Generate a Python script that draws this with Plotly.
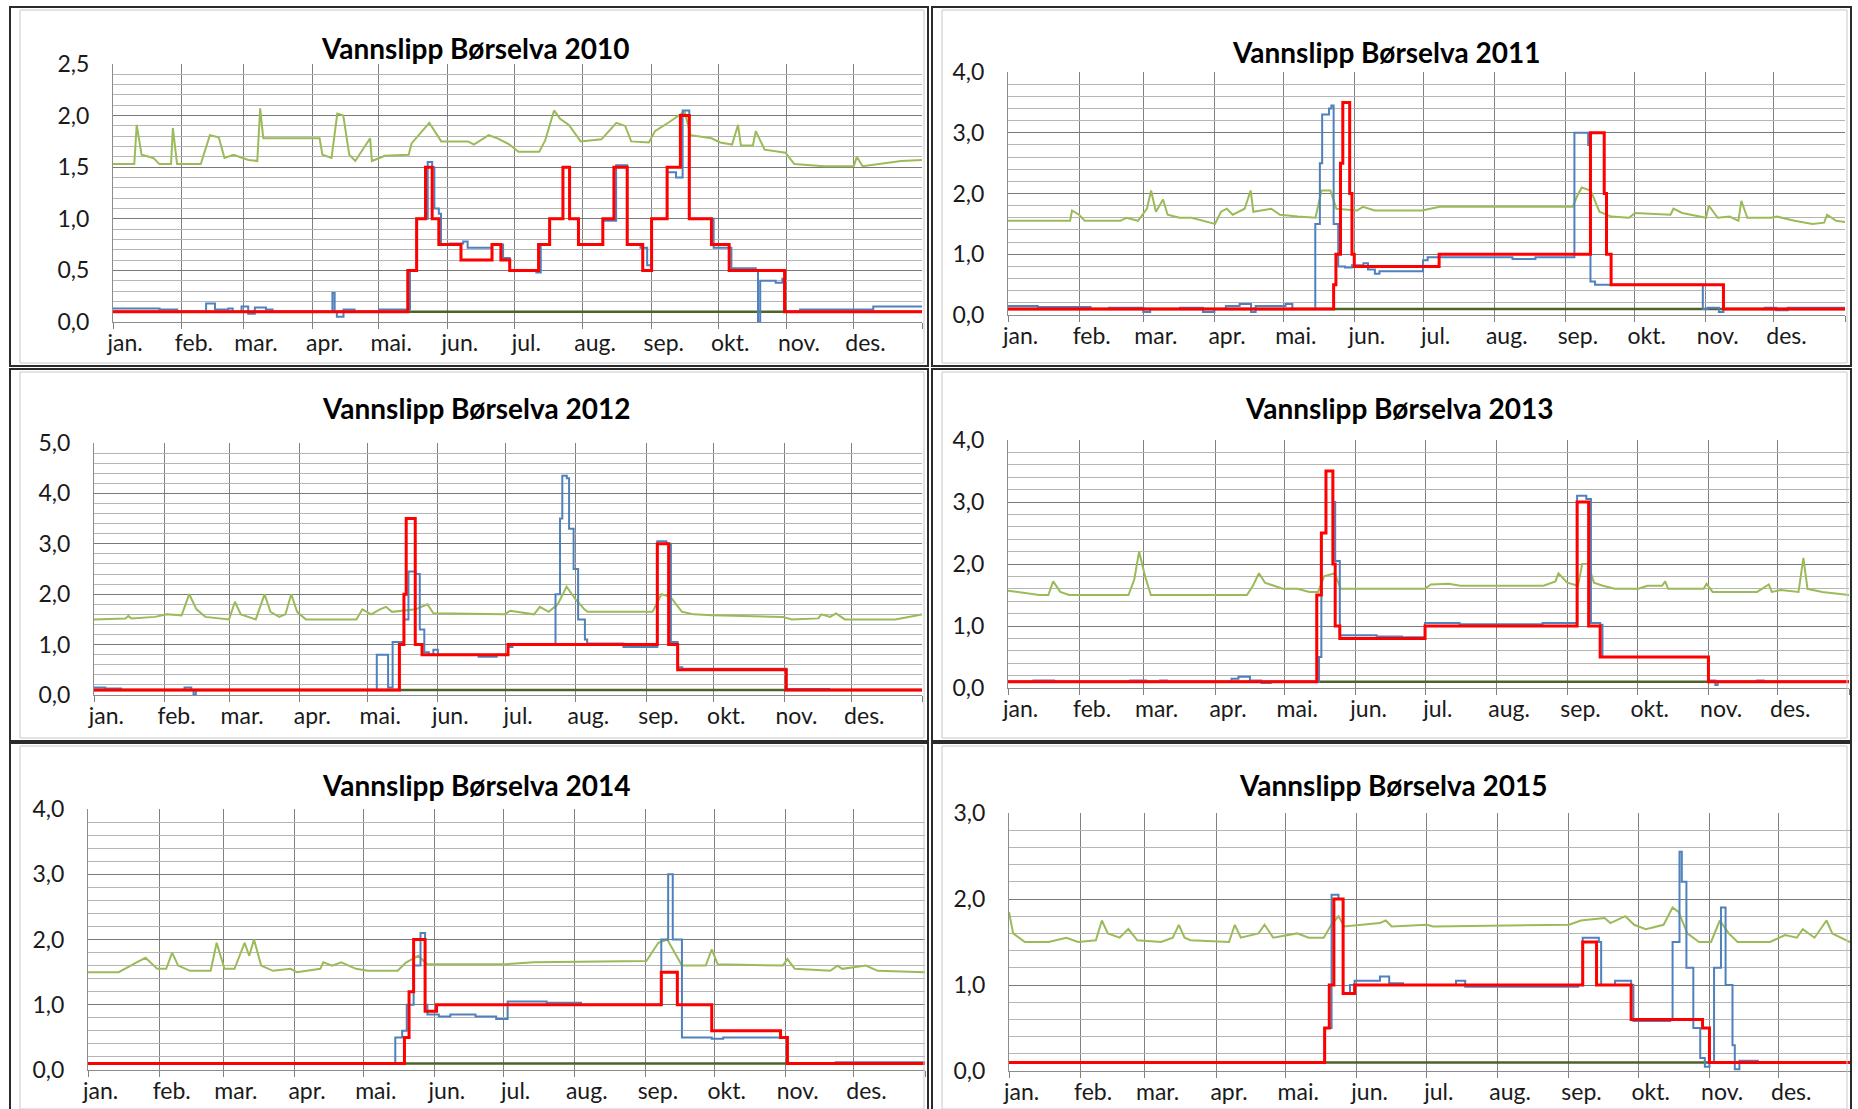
"""Vannslipp Børselva 2010-2015: six yearly panels of daily flow."""

import calendar

import plotly.graph_objects as go

W, H = 1858, 1109

MONTHS = ["jan.", "feb.", "mar.", "apr.", "mai.", "jun.",
          "jul.", "aug.", "sep.", "okt.", "nov.", "des."]
YEARS = [2010, 2011, 2012, 2013, 2014, 2015]
Y_MAX = [2.5, 4.0, 5.0, 4.0, 4.0, 3.0]
Y_STEP = [0.5, 1.0, 1.0, 1.0, 1.0, 1.0]
MIN_FLOW = 0.1

# (day of year, m3/s)
GREEN_2010 = [(0, 1.53), (9.6, 1.53), (10.7, 1.91), (12.9, 1.62), (18.2, 1.59), (20.9, 1.53),
              (26.2, 1.53), (27, 1.88), (28.9, 1.53), (39.6, 1.53), (43.7, 1.81), (47.7, 1.79),
              (50.3, 1.59), (54.4, 1.62), (61.1, 1.57), (65.1, 1.56), (66.4, 2.07), (67.8, 1.78),
              (93.2, 1.78), (94.5, 1.62), (98.6, 1.59), (101.2, 2.02), (103.9, 2.0), (106.6, 1.62),
              (109.3, 1.56), (116, 1.78), (116.8, 1.56), (122.7, 1.61), (133.4, 1.62), (134.7, 1.73),
              (142.7, 1.93), (148.1, 1.75), (160.2, 1.75), (162.8, 1.72), (169.5, 1.81), (173.5, 1.78),
              (178.9, 1.72), (182.9, 1.65), (192.3, 1.65), (195, 1.76), (199, 2.05), (201.7, 1.97),
              (205.7, 1.91), (211, 1.75), (220.4, 1.77), (227.1, 1.93), (231.1, 1.9), (233.8, 1.75),
              (241.8, 1.74), (244.5, 1.85), (251.2, 1.94), (257.9, 2.04), (260.6, 1.81), (270, 1.78),
              (274, 1.74), (279.3, 1.72), (282, 1.91), (283.3, 1.71), (288.7, 1.71), (290, 1.85),
              (294, 1.67), (303.4, 1.64), (307.4, 1.53), (320.8, 1.51), (334.2, 1.51), (335.6, 1.6),
              (338.2, 1.51), (355.6, 1.56), (365, 1.57)]
BLUE_2010 = [(0, 0.13), (21, 0.12), (29, 0.1), (42, 0.18), (46, 0.12), (52, 0.13), (54, 0.1),
             (58, 0.15), (61, 0.08), (64, 0.14), (69, 0.12), (72, 0.1), (99, 0.28), (100, 0.1),
             (101, 0.05), (104, 0.12), (109, 0.1), (120, 0.12), (134, 0.5), (137, 1.0), (142, 1.55),
             (144, 1.5), (145, 1.1), (147, 1.05), (148, 0.75), (152, 0.76), (158, 0.78), (160, 0.72),
             (171, 0.75), (176, 0.62), (179, 0.5), (191, 0.48), (193, 0.75), (197, 1.0), (203, 1.5),
             (206, 1.0), (210, 0.75), (221, 0.98), (227, 1.52), (232, 0.75), (238, 0.72), (241, 0.55),
             (243, 1.0), (250, 1.45), (254, 1.4), (257, 2.05), (260, 1.0), (271, 0.72), (279, 0.52),
             (290, 0.5), (291, 0.0), (292, 0.4), (299, 0.38), (302, 0.42), (303, 0.1), (310, 0.12),
             (343, 0.15), (365, 0.14)]
RED_2010 = [(0, 0.1), (133, 0.5), (137, 1.0), (141, 1.5), (144, 1.0), (147, 0.75), (157, 0.6),
            (171, 0.75), (175, 0.6), (179, 0.5), (192, 0.75), (197, 1.0), (203, 1.5), (206, 1.0),
            (210, 0.75), (221, 1.0), (226, 1.5), (232, 0.75), (239, 0.5), (243, 1.0), (250, 1.5),
            (256, 2.0), (260, 1.0), (270, 0.75), (278, 0.5), (303, 0.1), (365, 0.1)]

GREEN_2011 = [(0, 1.55), (27.1, 1.55), (27.9, 1.72), (31, 1.65), (33.5, 1.55), (49, 1.55), (51.6, 1.6),
              (56.7, 1.55), (60.6, 1.75), (62.4, 2.05), (64.5, 1.7), (67.6, 1.9), (69.6, 1.65),
              (74.8, 1.6), (80, 1.6), (85.1, 1.55), (90.3, 1.5), (92.9, 1.7), (95.4, 1.75), (98, 1.65),
              (103.2, 1.75), (105.8, 2.05), (107, 1.7), (114.8, 1.75), (118.6, 1.65), (126.4, 1.62),
              (134.1, 1.6), (136.7, 2.05), (140.6, 2.05), (143.2, 1.75), (152.2, 1.72), (154.8, 1.78),
              (159.9, 1.72), (180.5, 1.72), (188.3, 1.78), (246.3, 1.78), (248.1, 1.95), (250.2, 2.1),
              (254.1, 2.05), (257.9, 1.7), (263.1, 1.62), (270.8, 1.6), (273.4, 1.68), (288.9, 1.65),
              (290.2, 1.75), (294, 1.68), (304.4, 1.6), (305.6, 1.8), (309.5, 1.6), (314.7, 1.62),
              (318.5, 1.55), (319.8, 1.88), (322.4, 1.6), (332.7, 1.6), (335.3, 1.62), (343, 1.55),
              (350.8, 1.5), (355.9, 1.52), (357.2, 1.65), (361.1, 1.55), (365, 1.53)]
BLUE_2011 = [(0, 0.15), (13, 0.13), (36, 0.1), (44, 0.12), (59, 0.05), (62, 0.1), (75, 0.12),
             (85, 0.05), (90, 0.1), (95, 0.15), (101, 0.18), (106, 0.05), (108, 0.15), (121, 0.18),
             (124, 0.1), (134, 1.5), (136, 2.5), (137, 3.3), (140, 3.4), (141, 3.45), (142, 1.5),
             (144, 0.8), (147, 0.78), (150, 0.82), (155, 0.85), (157, 0.75), (160, 0.68), (162, 0.72),
             (181, 0.9), (183, 0.95), (220, 0.92), (230, 0.95), (247, 3.0), (253, 2.8), (254, 0.55),
             (256, 0.5), (303, 0.1), (305, 0.12), (310, 0.05), (312, 0.1), (330, 0.12), (335, 0.08),
             (340, 0.12), (365, 0.12)]
RED_2011 = [(0, 0.1), (142, 0.5), (143, 1.0), (145, 2.5), (146, 3.5), (149, 2.0), (150, 1.0),
            (151, 0.8), (188, 1.0), (254, 3.0), (260, 2.0), (261, 1.0), (263, 0.5), (312, 0.1),
            (365, 0.1)]

GREEN_2012 = [(0, 1.5), (13.9, 1.52), (15.2, 1.57), (16.5, 1.52), (27, 1.55), (32.2, 1.6), (38.7, 1.58),
              (42.1, 2.0), (45.3, 1.7), (49.2, 1.55), (59.7, 1.5), (62.3, 1.85), (64.9, 1.6),
              (68.3, 1.55), (71.5, 1.5), (75.4, 2.0), (78, 1.65), (81.9, 1.55), (84.6, 1.6), (87.2, 2.0),
              (89.8, 1.65), (93.7, 1.5), (116, 1.5), (118.6, 1.7), (122.5, 1.6), (126.4, 1.7),
              (129.1, 1.75), (131.7, 1.65), (142.1, 1.7), (147.4, 1.8), (150, 1.62), (181.4, 1.6),
              (184, 1.67), (194.5, 1.6), (197.1, 1.75), (201, 1.65), (205, 1.8), (208.9, 2.15),
              (212.8, 1.9), (216.8, 1.7), (218.1, 1.65), (246.9, 1.65), (250.8, 2.0), (254.7, 1.95),
              (259.9, 1.65), (265.2, 1.6), (273, 1.58), (304.5, 1.55), (308.4, 1.5), (320.2, 1.52),
              (321.5, 1.6), (325.4, 1.55), (328, 1.62), (331.9, 1.5), (354.2, 1.5), (366, 1.6)]
BLUE_2012 = [(0, 0.15), (5, 0.13), (12, 0.1), (40, 0.15), (43, 0.1), (44, 0.0), (45, 0.1), (125, 0.8),
             (130, 0.15), (132, 1.05), (137, 1.5), (139, 2.45), (142, 2.4), (144, 1.3), (146, 0.85),
             (148, 0.8), (150, 0.9), (152, 0.8), (170, 0.76), (178, 0.8), (183, 0.95), (185, 1.0),
             (204, 2.0), (206, 3.5), (207, 4.35), (209, 4.3), (210, 3.3), (212, 2.5), (214, 1.5),
             (217, 1.1), (218, 1.02), (234, 0.95), (249, 3.05), (253, 3.0), (255, 1.05), (258, 0.55),
             (260, 0.52), (306, 0.12), (325, 0.1), (366, 0.1)]
RED_2012 = [(0, 0.1), (135, 1.0), (137, 2.0), (138, 3.5), (142, 1.0), (145, 0.8), (183, 1.0),
            (249, 3.0), (254, 1.0), (258, 0.5), (306, 0.1), (366, 0.1)]

GREEN_2013 = [(0, 1.57), (13.6, 1.5), (17.5, 1.5), (19.6, 1.72), (22.7, 1.55), (26.5, 1.5), (52.3, 1.5),
              (54.8, 1.75), (56.9, 2.2), (59.5, 1.8), (62, 1.5), (103.7, 1.5), (106.3, 1.65),
              (108.9, 1.85), (111.5, 1.7), (115.3, 1.65), (119.2, 1.6), (125.6, 1.6), (130.8, 1.55),
              (134.6, 1.55), (137.2, 1.8), (141.8, 1.85), (144.4, 1.6), (181, 1.6), (183.5, 1.67),
              (191.2, 1.68), (196.4, 1.65), (232.4, 1.65), (237.6, 1.72), (238.9, 1.85), (242.7, 1.7),
              (247.4, 1.65), (249.2, 2.0), (251.7, 2.0), (254.3, 1.7), (258.2, 1.65), (263.3, 1.6),
              (273.6, 1.6), (277.5, 1.65), (283.9, 1.65), (285.2, 1.72), (286.5, 1.6), (301.9, 1.6),
              (303.2, 1.68), (305.8, 1.55), (325.1, 1.55), (330.2, 1.67), (331.5, 1.55), (335.4, 1.58),
              (343.1, 1.55), (345.2, 2.1), (347, 1.6), (353.4, 1.55), (365, 1.5)]
BLUE_2013 = [(0, 0.1), (11, 0.12), (20, 0.1), (53, 0.12), (60, 0.1), (66, 0.12), (69, 0.1), (97, 0.15),
             (100, 0.18), (105, 0.12), (110, 0.08), (114, 0.1), (135, 0.5), (136, 2.5), (138, 3.5),
             (141, 3.0), (142, 2.05), (144, 0.85), (160, 0.83), (171, 0.82), (181, 1.05), (196, 1.03),
             (232, 1.05), (247, 3.1), (251, 3.05), (253, 1.05), (257, 1.02), (258, 0.5), (304, 0.12),
             (307, 0.05), (308, 0.1), (325, 0.12), (328, 0.1), (365, 0.1)]
RED_2013 = [(0, 0.1), (134, 1.5), (136, 2.5), (138, 3.5), (141, 2.0), (142, 1.0), (144, 0.8),
            (181, 1.0), (247, 3.0), (252, 1.0), (257, 0.5), (304, 0.1), (365, 0.1)]

GREEN_2014 = [(0, 1.5), (13.4, 1.5), (21.2, 1.65), (25.1, 1.72), (30.2, 1.55), (34.1, 1.55), (36.7, 1.8),
              (39.3, 1.6), (44.5, 1.52), (53.5, 1.52), (56.1, 1.95), (59.5, 1.55), (63.9, 1.55),
              (68.3, 1.95), (70.3, 1.75), (72.4, 2.0), (75.5, 1.6), (80.7, 1.52), (88.4, 1.55), (91, 1.5),
              (101.3, 1.55), (102.6, 1.65), (106.5, 1.6), (110.4, 1.65), (116.9, 1.55), (122, 1.52),
              (135, 1.52), (138.8, 1.65), (144, 1.75), (147.9, 1.62), (181.5, 1.62), (194.4, 1.65),
              (243.5, 1.67), (246.1, 1.8), (248.7, 1.95), (252.6, 2.0), (256.5, 1.75), (259, 1.6),
              (269.4, 1.6), (272, 1.85), (274.6, 1.62), (303, 1.6), (305, 1.7), (308.2, 1.55),
              (323.7, 1.52), (326.8, 1.6), (328.9, 1.55), (339.2, 1.6), (344.4, 1.52), (365, 1.5)]
BLUE_2014 = [(0, 0.1), (134, 0.5), (137, 0.6), (139, 1.0), (142, 1.6), (145, 2.1), (147, 1.0),
             (148, 0.85), (153, 0.82), (158, 0.85), (169, 0.82), (178, 0.78), (183, 1.05), (200, 1.03),
             (215, 1.0), (250, 2.0), (253, 3.0), (255, 2.0), (259, 0.5), (272, 0.48), (277, 0.5),
             (305, 0.1), (326, 0.12), (365, 0.12)]
RED_2014 = [(0, 0.1), (138, 0.5), (140, 1.2), (142, 2.0), (147, 0.9), (152, 1.0), (250, 1.5),
            (257, 1.0), (272, 0.6), (302, 0.5), (305, 0.1), (365, 0.1)]

GREEN_2015 = [(0, 1.85), (1.8, 1.6), (6.9, 1.5), (17.2, 1.5), (24.9, 1.55), (30, 1.5), (37.7, 1.52),
              (40.3, 1.75), (42.9, 1.6), (48, 1.55), (51.8, 1.65), (55.7, 1.52), (66, 1.5), (71.1, 1.55),
              (73.7, 1.7), (76.2, 1.55), (78.8, 1.52), (95.5, 1.5), (98, 1.7), (100.6, 1.55),
              (108.3, 1.6), (110.9, 1.7), (114.7, 1.55), (125, 1.6), (130.1, 1.55), (136.6, 1.55),
              (139.9, 1.7), (143, 1.8), (145.5, 1.68), (160.9, 1.72), (163.5, 1.75), (166.1, 1.68),
              (181.5, 1.7), (184, 1.68), (243.1, 1.7), (248.2, 1.75), (258.5, 1.78), (261, 1.72),
              (267.5, 1.8), (271.3, 1.7), (276.4, 1.65), (284.1, 1.7), (288, 1.9), (290.6, 1.85),
              (294.4, 1.6), (299.5, 1.5), (304.7, 1.5), (308.5, 1.75), (312.4, 1.6), (316.2, 1.5),
              (330.3, 1.5), (336.8, 1.58), (341.9, 1.55), (344.5, 1.65), (349.6, 1.55), (354.8, 1.75),
              (357.3, 1.6), (365, 1.5)]
BLUE_2015 = [(0, 0.1), (137, 0.5), (140, 2.05), (143, 2.0), (145, 0.9), (148, 1.0), (150, 1.05),
             (154, 1.05), (161, 1.1), (165, 1.02), (171, 1.0), (184, 1.0), (194, 1.05), (198, 0.98),
             (247, 1.0), (249, 1.55), (256, 1.5), (257, 1.0), (263, 1.05), (270, 1.0), (271, 0.58),
             (287, 0.6), (288, 1.5), (291, 2.55), (292, 2.2), (294, 1.2), (297, 0.5), (300, 0.15),
             (302, 0.05), (304, 0.1), (306, 1.2), (309, 1.9), (311, 1.0), (314, 0.3), (315, 0.02),
             (317, 0.12), (325, 0.1), (365, 0.1)]
RED_2015 = [(0, 0.1), (137, 0.5), (139, 1.0), (141, 2.0), (145, 0.9), (150, 1.0), (249, 1.5),
            (255, 1.0), (270, 0.6), (301, 0.5), (304, 0.1), (365, 0.1)]

GREEN = dict(zip(YEARS, [GREEN_2010, GREEN_2011, GREEN_2012, GREEN_2013, GREEN_2014, GREEN_2015]))
BLUE = dict(zip(YEARS, [BLUE_2010, BLUE_2011, BLUE_2012, BLUE_2013, BLUE_2014, BLUE_2015]))
RED = dict(zip(YEARS, [RED_2010, RED_2011, RED_2012, RED_2013, RED_2014, RED_2015]))

# pixel boxes of the picture
PLOT_BOX = [(113, 64, 922, 322), (1008, 72, 1845, 315),
            (94, 443, 922, 695), (1008, 440, 1849, 688),
            (88, 809, 925, 1070), (1009, 813, 1850, 1071)]
PANEL_BOX = [(10, 7, 928, 366), (932, 7, 1851, 366),
             (10, 369, 928, 741), (932, 369, 1851, 741),
             (10, 743, 928, 1112), (932, 743, 1851, 1112)]
TITLE_POS = [(475, 48), (1386, 52), (476, 408), (1399, 408), (476, 785), (1393, 785)]

C_GREEN = "#9BBB59"
C_DARK = "#4F6228"
C_BLUE = "#4F81BD"
C_RED = "#FF0000"
FONT = "Lato, 'Open Sans', sans-serif"
TXT = "#1a1a1a"


def px(x):
    return x / W


def py(y):
    return 1 - y / H


fig = go.Figure()
layout = {}
shapes = []
annotations = []

for i, year in enumerate(YEARS):
    n = "" if i == 0 else str(i + 1)
    xa, ya = f"x{n}", f"y{n}"
    ndays = 366 if calendar.isleap(year) else 365
    starts = [sum(calendar.monthrange(year, m)[1] for m in range(1, k)) for k in range(1, 13)]

    fig.add_trace(go.Scatter(x=[0, ndays], y=[MIN_FLOW, MIN_FLOW], mode="lines",
                             line=dict(color=C_DARK, width=2.5), xaxis=xa, yaxis=ya,
                             showlegend=False, hoverinfo="skip"))
    for data, color, width, shape in ((GREEN[year], C_GREEN, 2, "linear"),
                                      (BLUE[year], C_BLUE, 2, "hv"),
                                      (RED[year], C_RED, 3, "hv")):
        fig.add_trace(go.Scatter(x=[d for d, _ in data], y=[v for _, v in data], mode="lines",
                                 line=dict(color=color, width=width, shape=shape),
                                 xaxis=xa, yaxis=ya, showlegend=False))

    x0, y0, x1, y1 = PLOT_BOX[i]
    layout[f"xaxis{n}"] = dict(
        domain=[px(x0), px(x1)], range=[0, ndays], anchor=ya, automargin=False,
        tickmode="array", tickvals=[s + 5.5 for s in starts], ticktext=MONTHS,
        showgrid=False, ticks="", zeroline=False,
        showline=True, linecolor="#8c8c8c", linewidth=1,
        minor=dict(tickmode="array", tickvals=starts + [ndays], showgrid=True,
                   gridcolor="#808080", gridwidth=1, ticks="outside", ticklen=6,
                   tickcolor="#808080"),
        tickfont=dict(family=FONT, size=23, color=TXT),
    )
    layout[f"yaxis{n}"] = dict(
        domain=[py(y1), py(y0)], range=[0, Y_MAX[i]], anchor=xa, automargin=False,
        tick0=0, dtick=Y_STEP[i], tickformat=".1f",
        showgrid=True, gridcolor="#7a7a7a", gridwidth=1.3, zeroline=False,
        showline=True, linecolor="#8c8c8c", linewidth=1, ticks="",
        ticklabelstandoff=18,
        minor=dict(dtick=Y_STEP[i] / 5, showgrid=True, gridcolor="#b5b5b5", gridwidth=1),
        tickfont=dict(family=FONT, size=23, color=TXT),
    )

    bx0, by0, bx1, by1 = PANEL_BOX[i]
    shapes.append(dict(type="rect", xref="paper", yref="paper",
                       x0=px(bx0 + 10), x1=px(bx1 - 4), y0=py(by1 - 3), y1=py(by0 + 3),
                       line=dict(color="#c8c8c8", width=1)))
    shapes.append(dict(type="rect", xref="paper", yref="paper",
                       x0=px(bx0), x1=px(bx1), y0=py(by1), y1=py(by0),
                       line=dict(color="#2b2b2b", width=2)))

    tx, ty = TITLE_POS[i]
    annotations.append(dict(text=f"<b>Vannslipp Børselva {year}</b>", xref="paper", yref="paper",
                            x=px(tx), y=py(ty), xanchor="center", yanchor="middle",
                            showarrow=False, font=dict(family=FONT, size=28, color="#000000")))

fig.update_layout(
    width=W, height=H, margin=dict(l=0, r=0, t=0, b=0),
    paper_bgcolor="white", plot_bgcolor="white",
    separators=", ", shapes=shapes, annotations=annotations,
    **layout,
)

fig.write_html("out.html", config={"displayModeBar": False},
               post_script="document.body.style.margin = '0';")
